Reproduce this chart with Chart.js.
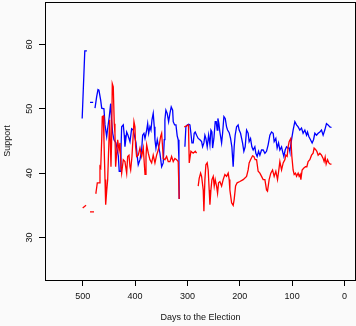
<!DOCTYPE html>
<html>
<head>
<meta charset="utf-8">
<script src="https://cdn.jsdelivr.net/npm/chart.js@4.4.1/dist/chart.umd.min.js"></script>
<style>
  html, body { margin:0; padding:0; background:#fafafa; }
  #wrap { width:356px; height:326px; }
</style>
</head>
<body>
<div id="wrap"><canvas id="plot" width="356" height="326"></canvas></div>
<script>
// ---------- DATA ----------
const xTicks = [500, 400, 300, 200, 100, 0];
const yTicks = [30, 40, 50, 60];
const xTitle = 'Days to the Election';
const yTitle = 'Support';

// null = gap in the series
const blueDays = [
  501, 496, 492, 489,
  486, 480, 478,
  476.5, 473.3, 470.8, 469, 465.6, 463.7, 459.4, 457.4, 454.2, 452.7, 449.2, 446.6, 445, 442.7,
  440.3, 436.5, 434, 432, 430.2, 428.2, 426.9, 425.6, 422.5, 420.6, 419.3, 416, 413.5, 409.7,
  406.5, 403.4, 398.2, 395.8, 393.9, 390.6, 387.4, 385.5, 383, 381, 377.8, 375.9, 374, 371.6,
  369.6, 367.7, 365.3, 363.3, 362, 360.1, 357.6, 355.7, 352.5, 349.2, 346.2, 344.2, 343, 341.1,
  338.6, 335.9, 333.4, 330.9, 328.2, 327.1, 324.4, 321.9, 319.5, 317.6, 316.2, 315.7, 310,
  304.8, 302.9, 300.4, 297.7, 295.2, 293.3, 291.4, 288.9, 287, 285.1, 282.4, 279.4, 276.1, 272.9,
  271, 268.5, 266.6, 264.7, 262.2, 259.5, 257, 255.1, 253.2, 251.9, 249.4, 246.9, 245, 243.1,
  241.8, 239.9, 238, 234.7, 232.8, 230.3, 227.8, 225.2, 223.3, 220.2, 217.6, 215.1, 212.6, 210.7,
  208.8, 206.1, 203.1, 201.2, 198.5, 194.7, 192.2, 189.7, 187, 184, 182.1, 179.4, 176.9, 174.4,
  171.2, 169.3, 166.8, 164.1, 161.6, 158.4, 155.3, 152, 148.9, 145.8, 142.5, 139.3, 136.2, 134.3,
  131.1, 128.6, 125.9, 123.4, 120.2, 118.3, 115.8, 113.3, 110.7, 108.2, 105.7, 104.4, 101.1, 98.1,
  94.8, 91.6, 88.5, 85.3, 82.1, 79, 75.7, 72.5, 70.6, 68.1, 64.9, 61.8, 59.1, 56.6,
  53.4, 50.3, 47.1, 43.9, 40.8, 37.6, 34.4, 31.3, 28, 24.8
];
const blueSupport = [
  48.5, 59, 59, null,
  51, 51, null,
  50.1, 51.9, 53, 52.9, 51.3, 50.1, 50, 47.5, 45.7, 46.7, 48.8, 50.8, 48.3, 46.2,
  45.2, 44.7, 43.6, 42.7, 40.3, 40.3, 43.6, 47.2, 47.5, 45.9, 44.1, 46.4, 45.9, 44.9,
  46.9, 46.7, 44.7, 42.6, 41.3, 42.1, 43.6, 45.9, 46.2, 45.4, 46.7, 47.7, 46.2, 47.2,
  46.7, 48.3, 49.3, 47.2, 45.2, 43.9, 45.2, 44.4, 43.1, 41, 41.6, 45.2, 48.3, 49.8,
  49.3, 48, 49.3, 50.3, 49.8, 48, 47.5, 47.5, 45.8, 45.2, 42.1, 36, null,
  44.1, 47.2, 47.5, 47.6, 47.5, 46.2, 44.7, 44.7, 46.2, 46.4, 45.9, 45.4, 45.2, 44.9,
  44.1, 44.7, 45.9, 45.4, 44.1, 45.9, 44.4, 46.7, 46.4, 43.9, 45.4, 48, 48, 46.7,
  48.5, 47.7, 46.4, 44.7, 46.2, 48.8, 48.5, 47.2, 46.7, 46.3, 45.4, 44.1, 41, 44.1,
  45.9, 47.2, 47.5, 46.7, 46.2, 44.7, 43.4, 44.1, 46.7, 46.2, 44.9, 45.4, 44.1, 43.6,
  44.1, 43.1, 42.6, 43.4, 42.8, 43.6, 43.6, 43.1, 43.4, 44.4, 45.9, 46.4, 46.2, 44.9,
  45.4, 43.9, 44.7, 43.6, 44.1, 43.4, 42.6, 43.6, 44.1, 43.9, 43.9, 43.4, 45.2, 46.7,
  48, 47.5, 47.2, 46.7, 47, 46.2, 46.7, 45.9, 46.4, 45.7, 45.2, 44.7, 45.2, 46.2,
  45.9, 46.2, 46.4, 46.7, 45.9, 46.7, 47.7, 47.5, 47.2, 47.1
];

const redDays = [
  500, 493.6, 490,
  486, 478.4, 477,
  476, 474.6, 472.1, 468.3, 467, 465.6, 463.7, 462.6, 460.7, 459.4, 457.4, 456.1, 454.2, 452.3,
  449.8, 448.5, 447.3, 446, 444.7, 443.5, 441.6, 439.7, 438.4, 437.1, 435.1, 433.2, 430.7, 428.8,
  426.9, 425.6, 422.5, 419.3, 416, 414.1, 411.6, 409.7, 408.4, 405.9, 402.1, 400.2, 398.9, 397,
  393.9, 390.6, 387.4, 384.3, 381, 379.1, 377.8, 374.7, 371.6, 368.3, 365.3, 362, 358.8, 355.7,
  353.8, 351.1, 349.2, 347.3, 346.2, 343, 339.7, 336.6, 333.4, 330.2, 327.1, 323.9, 320.7, 317.6,
  315.7, 310,
  306, 298, 296.5, 293.3, 289, 285, 282.4, 281,
  279.4, 277.5, 274.8, 272.9, 269.8, 268.5, 266.6, 264.7, 262.2, 260.3, 258.4, 257, 255.1, 253.2,
  250.7, 248.8, 246.9, 244.3, 242.4, 240.5, 238, 234.7, 231.7, 228.4, 225.2, 222.1, 220.2, 218.9,
  215.6, 212.6, 210.7, 208, 205, 199.8, 193.5, 187, 184, 182.1, 179.4, 175.6, 173.1, 170.6,
  167.9, 164.9, 161.6, 158.4, 155.3, 152, 148.9, 147, 143.9, 140.7, 137.4, 134.3, 131.1, 127.9,
  125.4, 123.4, 120.2, 117.1, 113.9, 112, 109.5, 107.6, 105.7, 102.5, 100.5, 98.1, 96.1, 93.5,
  91.6, 88.5, 86.6, 84.7, 83.3, 80.9, 77.6, 74.4, 71.9, 69.4, 66.2, 62.9, 59.9, 58,
  55.3, 52.8, 50.3, 47.1, 43.9, 40.8, 38.9, 36.9, 35, 32.3, 29.8, 27.3, 24.8
];
const redSupport = [
  34.6, 35, null,
  34, 34, null,
  36.9, 37, 38.5, 38.5, 41, 40.8, 45.2, 48.8, 48.9, 45.2, 39, 35.1, 37.2, 39,
  45.2, 48.3, 45.2, 41, 45.2, 53.9, 53.4, 47.7, 46.2, 41, 43.1, 45.2, 43.6, 44.7,
  41, 40, 42.1, 41.8, 40, 42.6, 42.8, 41, 40.5, 42.6, 48, 47.2, 44.1, 42.6,
  42.8, 43.9, 42.6, 43.9, 39.8, 42.6, 44.4, 43.1, 42.1, 41.6, 42.8, 41.6, 42.8, 43.6,
  44.4, 45.7, 46.2, 43.9, 42.3, 42.1, 42.6, 41.8, 41.8, 42.6, 41.8, 42.3, 42.1, 41.8,
  36, null,
  47.2, 47.5, 41.6, 43.4, 43.1, 43.4, 43.1, null,
  38, 39.2, 40, 39.5, 37.4, 34.1, 39, 41.3, 41.6, 40.5, 37.4, 35.1, 37.4, 39,
  39.5, 38, 39, 38, 36.9, 38.5, 38.7, 38, 39, 39.8, 39.5, 40, 39, 37.4,
  35.4, 35, 35.9, 38, 38.5, 38.7, 39, 39.5, 40.5, 41.6, 42.1, 42.7, 42.6, 42.1,
  42.1, 40.3, 40, 39.5, 39, 39, 37.4, 37.2, 39, 40, 40.5, 39.5, 40.3, 39,
  40.5, 41.8, 40.5, 41.6, 42.1, 42.8, 42.6, 44.1, 44.9, 45.4, 42.6, 40.5, 39.8, 40,
  39.5, 40, 39.5, 39.8, 39, 40.5, 40.8, 41, 41, 41.8, 42.1, 42.8, 43.1, 43.9,
  43.7, 43.4, 42.8, 43.1, 42.8, 42.3, 41.8, 42.5, 41.4, 42.1, 41.6, 41.4, 41.4
];

// ---------- HELPERS ----------
const FONT = "'Liberation Sans', Arial, sans-serif";

function points(days, vals){
  return days.map((d, i) => ({ x: d, y: vals[i] }));
}

// R-style box, rotated y labels and axis titles
const frame = {
  id: 'frame',
  afterDraw(chart){
    const { ctx, chartArea: a, scales } = chart;
    ctx.save();
    ctx.strokeStyle = '#000';
    ctx.lineWidth = 1;
    ctx.strokeRect(Math.round(a.left) + 0.5, Math.round(a.top) + 0.5,
                   Math.round(a.right - a.left) - 1, Math.round(a.bottom - a.top));

    ctx.fillStyle = '#111';
    ctx.font = '9px ' + FONT;
    ctx.textAlign = 'center';
    ctx.textBaseline = 'middle';

    xTicks.forEach(v => {
      ctx.fillText(String(v), scales.x.getPixelForValue(v), 297);
    });
    ctx.fillText(xTitle, (a.left + a.right) / 2, 318);

    yTicks.forEach(v => {
      ctx.save();
      ctx.translate(30, scales.y.getPixelForValue(v));
      ctx.rotate(-Math.PI / 2);
      ctx.fillText(String(v), 0, 0);
      ctx.restore();
    });
    ctx.save();
    ctx.translate(8, (a.top + a.bottom) / 2);
    ctx.rotate(-Math.PI / 2);
    ctx.fillText(yTitle, 0, 0);
    ctx.restore();
    ctx.restore();
  }
};

// ---------- CHART ----------
new Chart(document.getElementById('plot').getContext('2d'), {
  type: 'line',
  data: {
    datasets: [
      { data: points(redDays, redSupport), borderColor: '#ff0000', borderWidth: 1.3, pointRadius: 0, tension: 0, spanGaps: false },
      { data: points(blueDays, blueSupport), borderColor: '#0000ff', borderWidth: 1.3, pointRadius: 0, tension: 0, spanGaps: false }
    ]
  },
  options: {
    responsive: false,
    animation: false,
    devicePixelRatio: 1,
    layout: { padding: { top: 2, right: 0, left: 0, bottom: 0 } },
    plugins: { legend: { display: false }, tooltip: { enabled: false } },
    scales: {
      x: {
        type: 'linear', reverse: true, min: -22, max: 572,
        afterBuildTicks: s => { s.ticks = xTicks.map(v => ({ value: v })); },
        afterFit: s => { s.height = 46; },
        ticks: { display: false },
        border: { display: false },
        grid: { drawOnChartArea: false, drawTicks: true, tickLength: 6, color: '#000', lineWidth: 1 }
      },
      y: {
        type: 'linear', min: 23.4, max: 66.6,
        afterBuildTicks: s => { s.ticks = yTicks.map(v => ({ value: v })); },
        afterFit: s => { s.width = 45; },
        ticks: { display: false },
        border: { display: false },
        grid: { drawOnChartArea: false, drawTicks: true, tickLength: 6, color: '#000', lineWidth: 1 }
      }
    }
  },
  plugins: [frame]
});
</script>
</body>
</html>
